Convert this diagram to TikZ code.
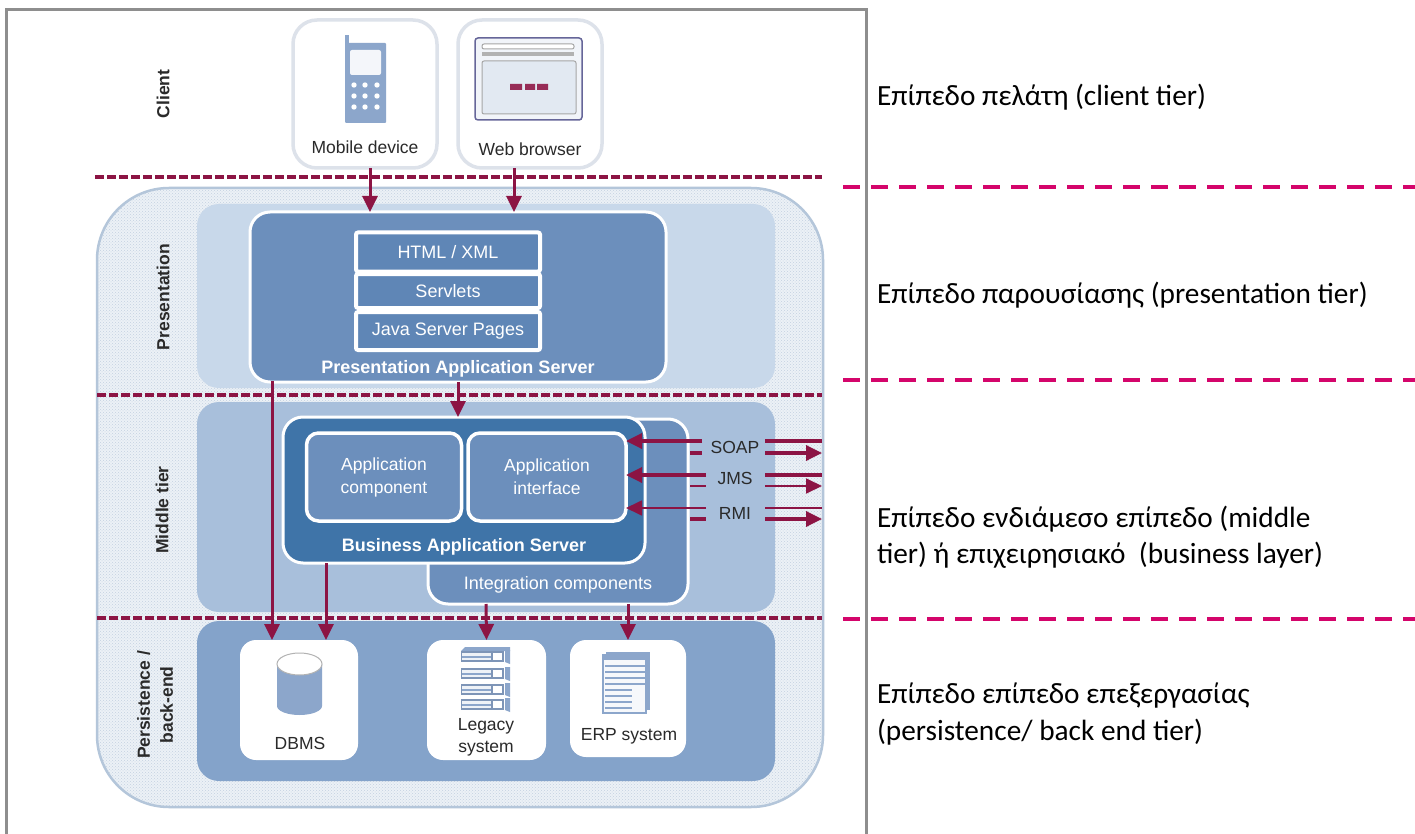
\documentclass[tikz,border=0pt]{standalone}
\usepackage{fontspec}
\setmainfont{Liberation Sans}
\newfontfamily\carlito{Carlito}
\usetikzlibrary{arrows.meta,patterns,shapes.geometric}
\definecolor{crim}{HTML}{8C1444}
\definecolor{pinkd}{HTML}{D4056B}
\definecolor{frameg}{HTML}{8E8E8E}
\definecolor{outerb}{HTML}{B4C6DA}
\definecolor{bandP}{HTML}{C8D8EA}
\definecolor{bandM}{HTML}{A8BFDB}
\definecolor{bandB}{HTML}{84A3CA}
\definecolor{srv}{HTML}{6C8FBC}
\definecolor{stk}{HTML}{5F86B6}
\definecolor{biz}{HTML}{3F74A8}
\definecolor{clientb}{HTML}{DDE2EA}
\definecolor{icon}{HTML}{8CA6CB}
\definecolor{dtext}{HTML}{2A2A2A}
\tikzset{
  px/.style={inner sep=0pt,outer sep=0pt},
  rbox/.style={px,rectangle,rounded corners=#1},
  clientbox/.style={rbox=24pt,draw=clientb,line width=3.5pt,fill=white},
  band/.style={rbox=22pt},
  srvbox/.style={rbox=20pt,draw=white,line width=3pt},
  stackbox/.style={rbox=2pt,fill=stk,draw=white,line width=4pt,text=white,
    font=\fontsize{18}{20}\selectfont},
  appbox/.style={rbox=12pt,fill=srv,draw=white,line width=3.5pt,text=white,align=center,
    font=\fontsize{17.5}{23}\selectfont},
  whitebox/.style={rbox=16pt,fill=white},
  tier/.style={px,rotate=90,text=dtext,align=center,font=\bfseries\fontsize{17.5}{23}\selectfont},
  lbl/.style={px,text=dtext,align=center,font=\fontsize{17.5}{22}\selectfont},
  whitelbl/.style={px,text=white,font=\bfseries\fontsize{18}{20}\selectfont},
  rtext/.style={px,anchor=west,align=left,text=black,font=\carlito\fontsize{29.3}{36.5}\selectfont},
  ddash/.style={draw=crim,line width=3.4pt,dash pattern=on 9pt off 3pt},
  pdash/.style={draw=pinkd,line width=4pt,dash pattern=on 16.5pt off 11.5pt},
  arr/.style={draw=crim,line width=3pt,-{Triangle[length=16pt,width=15pt]}},
  wire/.style={draw=crim,line width=3pt},
}
\begin{document}
\begin{tikzpicture}[x=1pt,y=-1pt]
\useasboundingbox (0,0) rectangle (1415,834);
\fill[white] (0,0) rectangle (1415,834);
% frame
\draw[frameg,line width=3pt] (6,840) -- (6,10) -- (866,10) -- (866,840);
% outer rounded shape
\path[fill=outerb!25,rounded corners=72pt] (97,188) rectangle (823,807);
\path[pattern=crosshatch dots,pattern color=outerb!80,rounded corners=72pt] (97,188) rectangle (823,807);
\draw[outerb,line width=2.5pt,rounded corners=72pt] (97,188) rectangle (823,807);
% bands
\node[band,fill=bandP,minimum width=578pt,minimum height=184pt] (bandpres) at (486,296) {};
\node[band,fill=bandM,minimum width=578pt,minimum height=210pt] (bandmid) at (486,507) {};
\node[band,fill=bandB,minimum width=578pt,minimum height=160pt] (bandback) at (486,701) {};
% client
\node[clientbox,minimum width=144pt,minimum height=148pt] (mobile) at (365,94) {};
\node[clientbox,minimum width=144pt,minimum height=148pt] (web) at (530,94) {};
\node[lbl] (mobilelbl) at (365,147) {Mobile device};
\node[lbl] (weblbl) at (530,149) {Web browser};
% phone icon
\fill[icon] (345,35) rectangle (349,46);
\fill[icon,rounded corners=1pt] (345,43) rectangle (386,123);
\fill[white!90!icon,rounded corners=2pt] (350,50) rectangle (381,75);
\foreach \yy in {85,96,107}\foreach \xx in {354,365,377}{\fill[white] (\xx,\yy) circle (2.7pt);}
% browser icon
\draw[fill=white!88!icon,draw=gray!80!blue,line width=1.5pt,rounded corners=3pt] (475,38) rectangle (582,120);
\draw[fill=white,draw=gray!70,line width=1pt,rounded corners=2pt] (482,44) rectangle (574,49);
\fill[gray!60] (482,52) rectangle (574,56);
\draw[fill=white!75!icon,draw=gray!70,line width=1pt,rounded corners=2pt] (482,61) rectangle (576,114);
\fill[crim!90] (510,84) rectangle (522,90) (525,84) rectangle (535,90) (537,84) rectangle (548,90);
% presentation
\node[srvbox,fill=srv,minimum width=416pt,minimum height=170pt] (pres) at (458,297) {};
\node[stackbox,minimum width=184pt,minimum height=39pt] (html) at (448,252) {HTML / XML};
\node[stackbox,minimum width=184pt,minimum height=34pt] (servlets) at (448,291) {Servlets};
\node[stackbox,minimum width=184pt,minimum height=38pt] (jsp) at (448,331) {Java Server Pages};
\node[whitelbl] (preslbl) at (458,369) {Presentation Application Server};
% middle
\node[srvbox,fill=srv,minimum width=260pt,minimum height=185pt,text=white] (integ) at (558,511.5) {};
\node[srvbox,fill=biz,minimum width=362pt,minimum height=146pt] (bizs) at (464,490) {};
\node[appbox,minimum width=155pt,minimum height=88pt] (appc) at (384,477) {Application\\component};
\node[appbox,minimum width=158pt,minimum height=88pt] (appi) at (547,477) {Application\\interface};
\node[whitelbl] (bizlbl) at (464,547) {Business Application Server};
\node[px,text=white,font=\fontsize{18}{20}\selectfont] (integlbl) at (558,585) {Integration components};
% back-end
\node[whitebox,minimum width=118pt,minimum height=120pt] (dbms) at (299,700) {};
\node[whitebox,minimum width=119pt,minimum height=120pt] (legacy) at (486.5,700) {};
\node[whitebox,minimum width=116pt,minimum height=117pt] (erp) at (628,698.5) {};
\node[lbl] (dbmslbl) at (300,743) {DBMS};
\node[lbl] (legacylbl) at (486,737) {Legacy\\system};
\node[lbl] (erplbl) at (629,736) {ERP system};
% cylinder
\fill[icon] (277,664) -- (277,706) arc[start angle=180,end angle=360,x radius=22.5pt,y radius=9pt] -- (322,664) -- cycle;
\draw[fill=white,draw=gray!60,line width=1pt] (299.5,664) ellipse (22.5pt and 11pt);
% legacy icon
\fill[icon] (465,647) -- (510,647) -- (510,651) -- (461,651) -- cycle;
\foreach \yy in {651,668,684,699}{
  \draw[icon!90!black,line width=1.4pt,fill=white!85!icon] (461.5,\yy+1) rectangle (498,\yy+10);
  \fill[icon] (462,\yy+5) rectangle (492,\yy+6.5);
  \draw[icon!90!black,line width=1.2pt,fill=white] (492,\yy+1) rectangle (503,\yy+10);
  \fill[icon] (505,\yy-1) -- (510,\yy-1) -- (510,\yy+13) -- (505,\yy+11) -- cycle;
}
% erp icon
\fill[icon] (606,652) rectangle (650,710);
\fill[white!92!icon,draw=icon,line width=1.5pt] (603,655) rectangle (646,713);
\fill[icon] (603,655) rectangle (646,660);
\foreach \yy in {665,671,677,683,689,695,701,707}{\fill[icon] (605,\yy) rectangle ({\yy<685?645:632},\yy+1.5);}
% tier labels
\node[tier] (tclient) at (163,94) {Client};
\node[tier] (tpres) at (163,297) {Presentation};
\node[tier] (tmid) at (162,510) {Middle tier};
\node[tier] (tback) at (155,705) {Persistence /\\back-end};
% dashed tier lines
\coordinate (dl1) at (95,177); \coordinate (dr1) at (822,177);
\coordinate (dl2) at (97,395); \coordinate (dr2) at (822,395);
\coordinate (dl3) at (97,618); \coordinate (dr3) at (822,618);
\draw[ddash] (dl1) -- (dr1);
\draw[ddash] (dl2) -- (dr2);
\draw[ddash] (dl3) -- (dr3);
\coordinate (pl1) at (843,187); \coordinate (pr1) at (1415,187);
\coordinate (pl2) at (843,380); \coordinate (pr2) at (1415,380);
\coordinate (pl3) at (843,619); \coordinate (pr3) at (1415,619);
\draw[pdash] (pl1) -- (pr1);
\draw[pdash] (pl2) -- (pr2);
\draw[pdash] (pl3) -- (pr3);
% vertical arrows
\draw[arr] ([xshift=5pt]mobile.south) -- ([xshift=-88pt]pres.north);
\draw[arr] ([xshift=-16pt]web.south) -- ([xshift=56pt]pres.north);
\draw[arr] (pres.south) -- (pres.south |- bizs.north);
\draw[arr] ([xshift=-186pt,yshift=1pt]pres.south) -- ([xshift=-27pt]dbms.north);
\draw[arr] ([xshift=-138pt]bizs.south) -- ([xshift=27pt]dbms.north);
\draw[arr] ([xshift=-72pt]integ.south) -- (legacy.north);
\draw[arr] ([xshift=70pt]integ.south) -- (erp.north);
% protocol labels
\node[lbl] (soap) at (735,447) {SOAP};
\node[lbl] (jms) at (735,478) {JMS};
\node[lbl] (rmi) at (735,513) {RMI};
% protocol wires
\coordinate (ext1) at (822,441); \coordinate (ext2) at (822,453);
\coordinate (ext3) at (822,475); \coordinate (ext4) at (822,486);
\coordinate (ext5) at (822,508); \coordinate (ext6) at (822,519);
\draw[arr,line width=3.4pt] (702,441) -- (appi.east |- ext1);
\draw[arr,line width=3.4pt] (706,475) -- (appi.east |- ext3);
\draw[arr,line width=1.8pt] (706,508) -- (appi.east |- ext5);
\draw[wire,line width=3.4pt] (690,453) -- (702,453);
\draw[wire,line width=1.8pt] (690,486) -- (706,486);
\draw[wire,line width=3.4pt] (690,519) -- (706,519);
\draw[wire,line width=3.4pt] (765,441) -- (ext1);
\draw[wire,line width=3.4pt] (765,475) -- (ext3);
\draw[wire,line width=1.8pt] (765,508) -- (ext5);
\draw[arr,line width=3.4pt] (765,453) -- (ext2);
\draw[arr,line width=1.8pt] (765,486) -- (ext4);
\draw[arr,line width=3.4pt] (765,519) -- (ext6);
% right text
\node[rtext] (r1) at (877,97) {Επίπεδο πελάτη (client tier)};
\node[rtext] (r2) at (877,295) {Επίπεδο παρουσίασης (presentation tier)};
\node[rtext] (r3) at (877,537) {Επίπεδο ενδιάμεσο επίπεδο (middle\\tier) ή επιχειρησιακό\ \ (business layer)};
\node[rtext] (r4) at (877,714) {Επίπεδο επίπεδο επεξεργασίας\\(persistence/ back end tier)};
\end{tikzpicture}
\end{document}
